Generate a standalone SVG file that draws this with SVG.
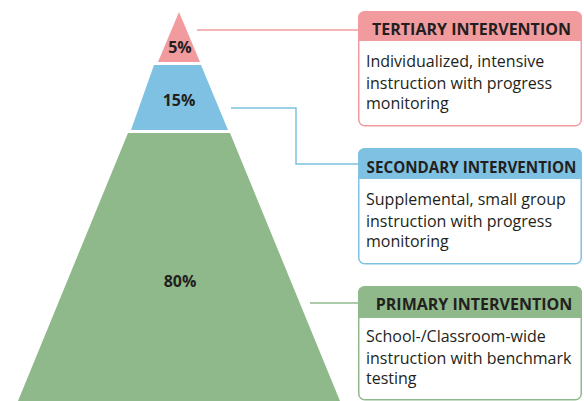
<svg xmlns="http://www.w3.org/2000/svg" width="584" height="401" viewBox="0 0 584 401">
<style>
.pct{font-family:"Open Sans","Noto Sans",sans-serif;font-weight:bold;font-size:16px;fill:#231f20;text-anchor:middle}
.hd{font-family:"Open Sans","Noto Sans",sans-serif;font-weight:bold;font-size:16px;fill:#231f20;text-anchor:middle}
.bd{font-family:"Open Sans","Noto Sans",sans-serif;font-size:16px;fill:#231f20}
.conn{fill:none;stroke-width:1.5}
</style>
<rect width="584" height="401" fill="#ffffff"/>
<g id="pyramid">
<polygon id="tier-tertiary" points="179,12 200,62 158,62" fill="#f29b9e"/>
<polygon id="tier-secondary" points="154,65 201,65 228,130 131,130" fill="#7ec1e2"/>
<polygon id="tier-primary" points="128,133 230,133 340,401 18,401" fill="#8fb98a"/>
<text class="pct" x="180" y="53">5%</text>
<text class="pct" x="179" y="106">15%</text>
<text class="pct" x="180" y="287">80%</text>
</g>
<g id="connectors">
<polyline class="conn" stroke="#f29b9e" points="197,30 358,30"/>
<polyline class="conn" stroke="#7ec1e2" points="231,108 296,108 296,164 358,164"/>
<polyline class="conn" stroke="#8fb98a" points="310,303 358,303"/>
</g>
<g id="tertiary">
<rect x="358.75" y="11.75" width="222.5" height="114" rx="6" fill="#ffffff" stroke="#f29b9e" stroke-width="1.5"/>
<path d="M358,41 V17.5 a6,6 0 0 1 6,-6 H576 a6,6 0 0 1 6,6 V41 Z" fill="#f29b9e"/>
<text class="hd" x="471.5" y="35">TERTIARY INTERVENTION</text>
<text class="bd" x="366" y="67">Individualized, intensive</text>
<text class="bd" x="366" y="89">instruction with progress</text>
<text class="bd" x="366" y="109">monitoring</text>
</g>
<g id="secondary">
<rect x="358.75" y="148.75" width="222.5" height="115" rx="6" fill="#ffffff" stroke="#7ec1e2" stroke-width="1.5"/>
<path d="M358,179 V154.5 a6,6 0 0 1 6,-6 H576 a6,6 0 0 1 6,6 V179 Z" fill="#7ec1e2"/>
<text class="hd" x="471.5" y="173" style="font-size:15.2px">SECONDARY INTERVENTION</text>
<text class="bd" x="366" y="205">Supplemental, small group</text>
<text class="bd" x="366" y="227">instruction with progress</text>
<text class="bd" x="366" y="247">monitoring</text>
</g>
<g id="primary">
<rect x="358.75" y="286.75" width="222.5" height="113" rx="6" fill="#ffffff" stroke="#8fb98a" stroke-width="1.5"/>
<path d="M358,318 V292.5 a6,6 0 0 1 6,-6 H576 a6,6 0 0 1 6,6 V318 Z" fill="#8fb98a"/>
<text class="hd" x="474" y="310">PRIMARY INTERVENTION</text>
<text class="bd" x="366" y="342">School-/Classroom-wide</text>
<text class="bd" x="366" y="364">instruction with benchmark</text>
<text class="bd" x="366" y="384">testing</text>
</g>
</svg>
